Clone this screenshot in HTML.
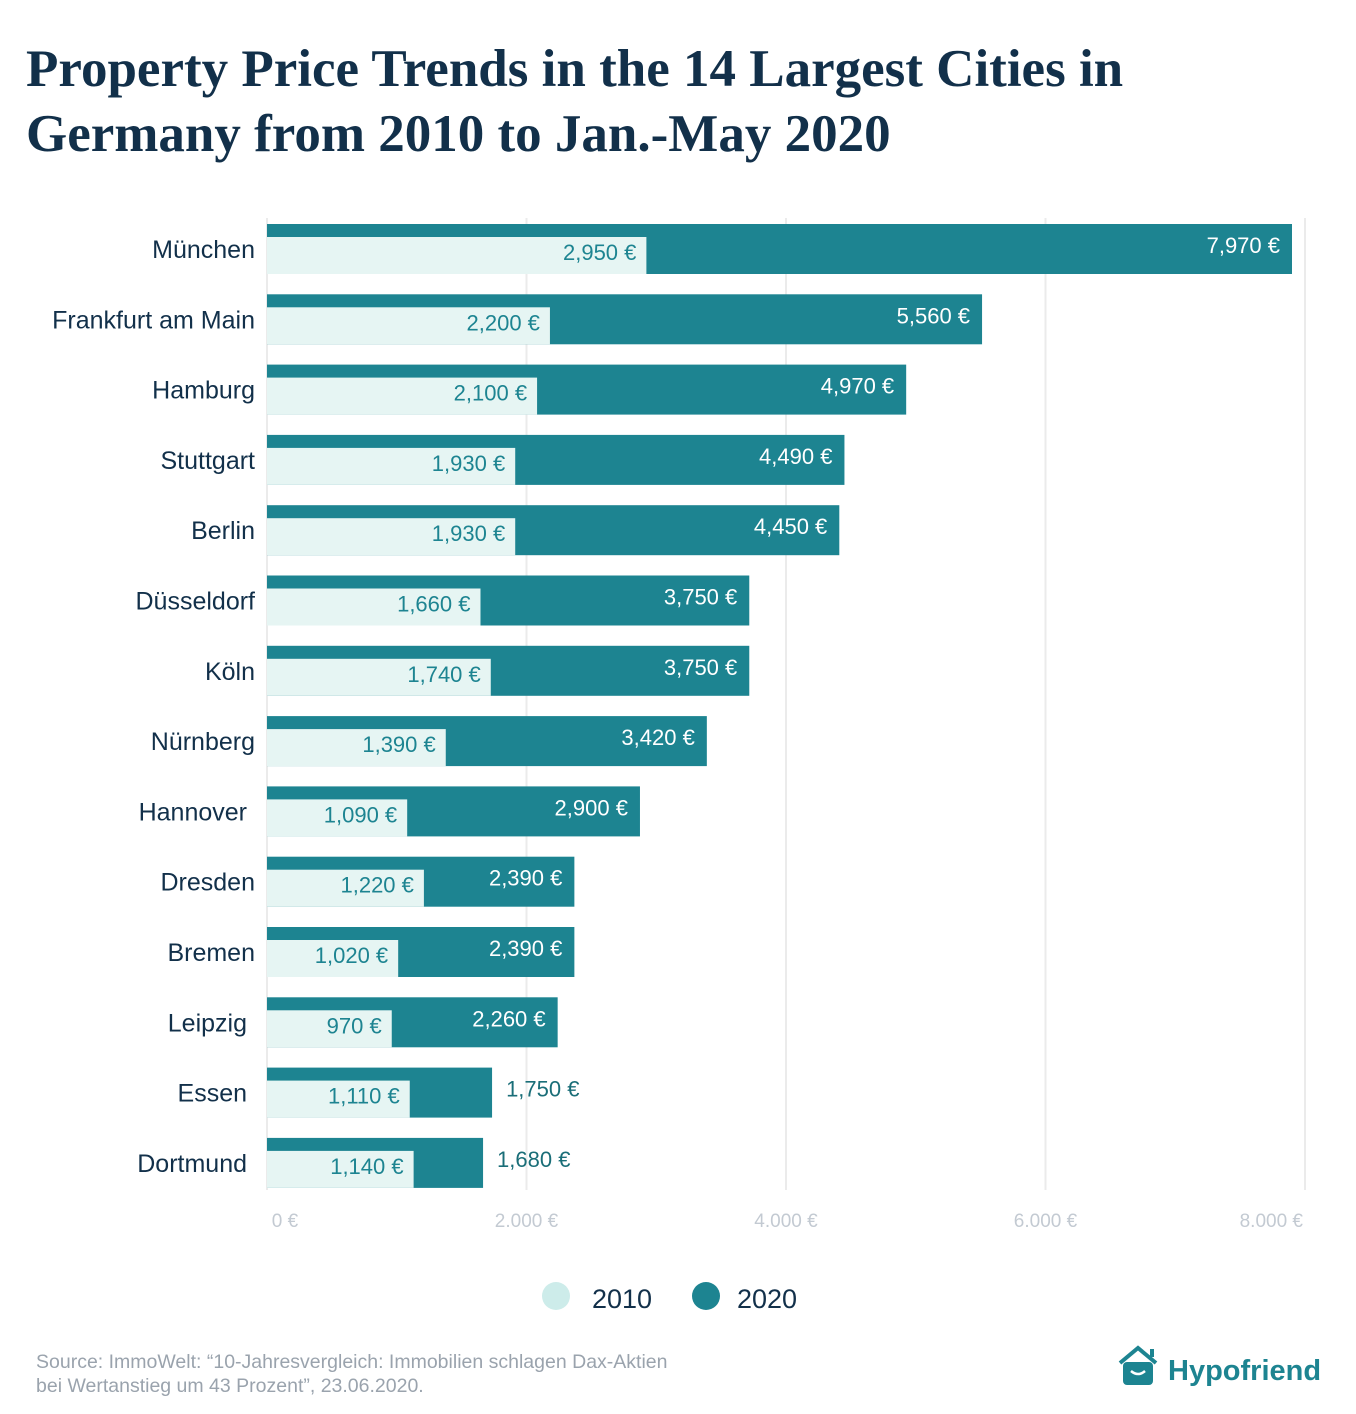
<!DOCTYPE html>
<html><head><meta charset="utf-8"><style>
body{margin:0;background:#fff;}
svg{display:block;font-family:"Liberation Sans",sans-serif;}
</style></head><body>
<svg id="chart" width="1356" height="1414" viewBox="0 0 1356 1414">
<text x="26" y="86" font-family="Liberation Serif,serif" font-weight="bold" font-size="53" fill="#12304a">Property Price Trends in the 14 Largest Cities in</text>
<text x="26" y="151" font-family="Liberation Serif,serif" font-weight="bold" font-size="53" fill="#12304a">Germany from 2010 to Jan.-May 2020</text>
<g id="grid"></g>
<g id="bars"></g>
<g>
<circle cx="556" cy="1296" r="14" fill="#cdecea"/>
<text x="592" y="1308" font-size="27" fill="#12304a">2010</text>
<circle cx="706" cy="1296" r="14" fill="#1d8491"/>
<text x="737" y="1308" font-size="27" fill="#12304a">2020</text>
</g>
<text x="36" y="1368" font-size="19.5" fill="#9aa3ad">Source: ImmoWelt: “10-Jahresvergleich: Immobilien schlagen Dax-Aktien</text>
<text x="36" y="1392" font-size="19.5" fill="#9aa3ad">bei Wertanstieg um 43 Prozent”, 23.06.2020.</text>
<g>
<path d="M1120 1363 L1138 1348 L1156 1363" fill="none" stroke="#1d8491" stroke-width="4"/>
<rect x="1150" y="1349" width="4" height="8" fill="#1d8491"/>
<rect x="1123" y="1362" width="30" height="23" rx="4" fill="#1d8491"/>
<path d="M1131 1371 Q1138 1377 1145 1371" fill="none" stroke="#fff" stroke-width="2.5"/>
<text x="1168" y="1380" font-size="29" font-weight="bold" fill="#1d8491">Hypofriend</text>
</g>
</svg>
<script>
const cities=["München","Frankfurt am Main","Hamburg","Stuttgart","Berlin","Düsseldorf","Köln","Nürnberg","Hannover","Dresden","Bremen","Leipzig","Essen","Dortmund"];
const values2010=[2950,2200,2100,1930,1930,1660,1740,1390,1090,1220,1020,970,1110,1140];
const values2020=[7970,5560,4970,4490,4450,3750,3750,3420,2900,2390,2390,2260,1750,1680];
const ticks=[0,2000,4000,6000,8000];
const tickLabels=["0 €","2.000 €","4.000 €","6.000 €","8.000 €"];
const NS="http://www.w3.org/2000/svg";
const x0=267,xScale=1025/7970;
function xPos(v){return x0+v*xScale;}
function gridPos(v){return x0+v*(1038/8000);}
function yPos(i){return 224+i*70.3;}
function fmt(v){return v.toLocaleString("en-US")+" €";}
function mk(tag,attrs,parent){const e=document.createElementNS(NS,tag);for(const k in attrs)e.setAttribute(k,attrs[k]);parent.appendChild(e);return e;}
const grid=document.getElementById("grid"),bars=document.getElementById("bars");
ticks.forEach((t,i)=>{
  const l=mk("line",{x1:gridPos(t),x2:gridPos(t),y1:218,y2:1190,stroke:"#ebebeb","stroke-width":2},grid);
  
  
  const last=i==ticks.length-1;
  const tx=mk("text",{x:i==0?gridPos(t)+18:(last?gridPos(t)-2:gridPos(t)),y:1227,"font-size":19,fill:"#c3cad2","text-anchor":last?"end":"middle"},grid);
  tx.textContent=tickLabels[i];
  
  
});
cities.forEach((c,i)=>{
  const y=yPos(i);
  const b2=mk("rect",{x:x0,y:y,width:xPos(values2020[i])-x0,height:50,fill:"#1d8491"},bars);
  
  
  const b1=mk("rect",{x:x0,y:y+13,width:xPos(values2010[i])-x0,height:37,fill:"#e6f5f3"},bars);
  
  
  const lab=mk("text",{x:255-(i==8||i>=11?8:0),y:y+34,"font-size":25,fill:"#12304a","text-anchor":"end"},bars);
  lab.textContent=c;
  
  
  const v1=mk("text",{x:xPos(values2010[i])-10,y:y+36,"font-size":22,fill:"#1d8491","text-anchor":"end"},bars);
  v1.textContent=fmt(values2010[i]);
  
  
  const inside=values2020[i]>2000;
  const v2=mk("text",{x:inside?xPos(values2020[i])-12:xPos(values2020[i])+14,y:y+29,"font-size":22,fill:inside?"#fff":"#1a6e78","text-anchor":inside?"end":"start"},bars);
  v2.textContent=fmt(values2020[i]);
  
  
});
</script>
</body></html>
